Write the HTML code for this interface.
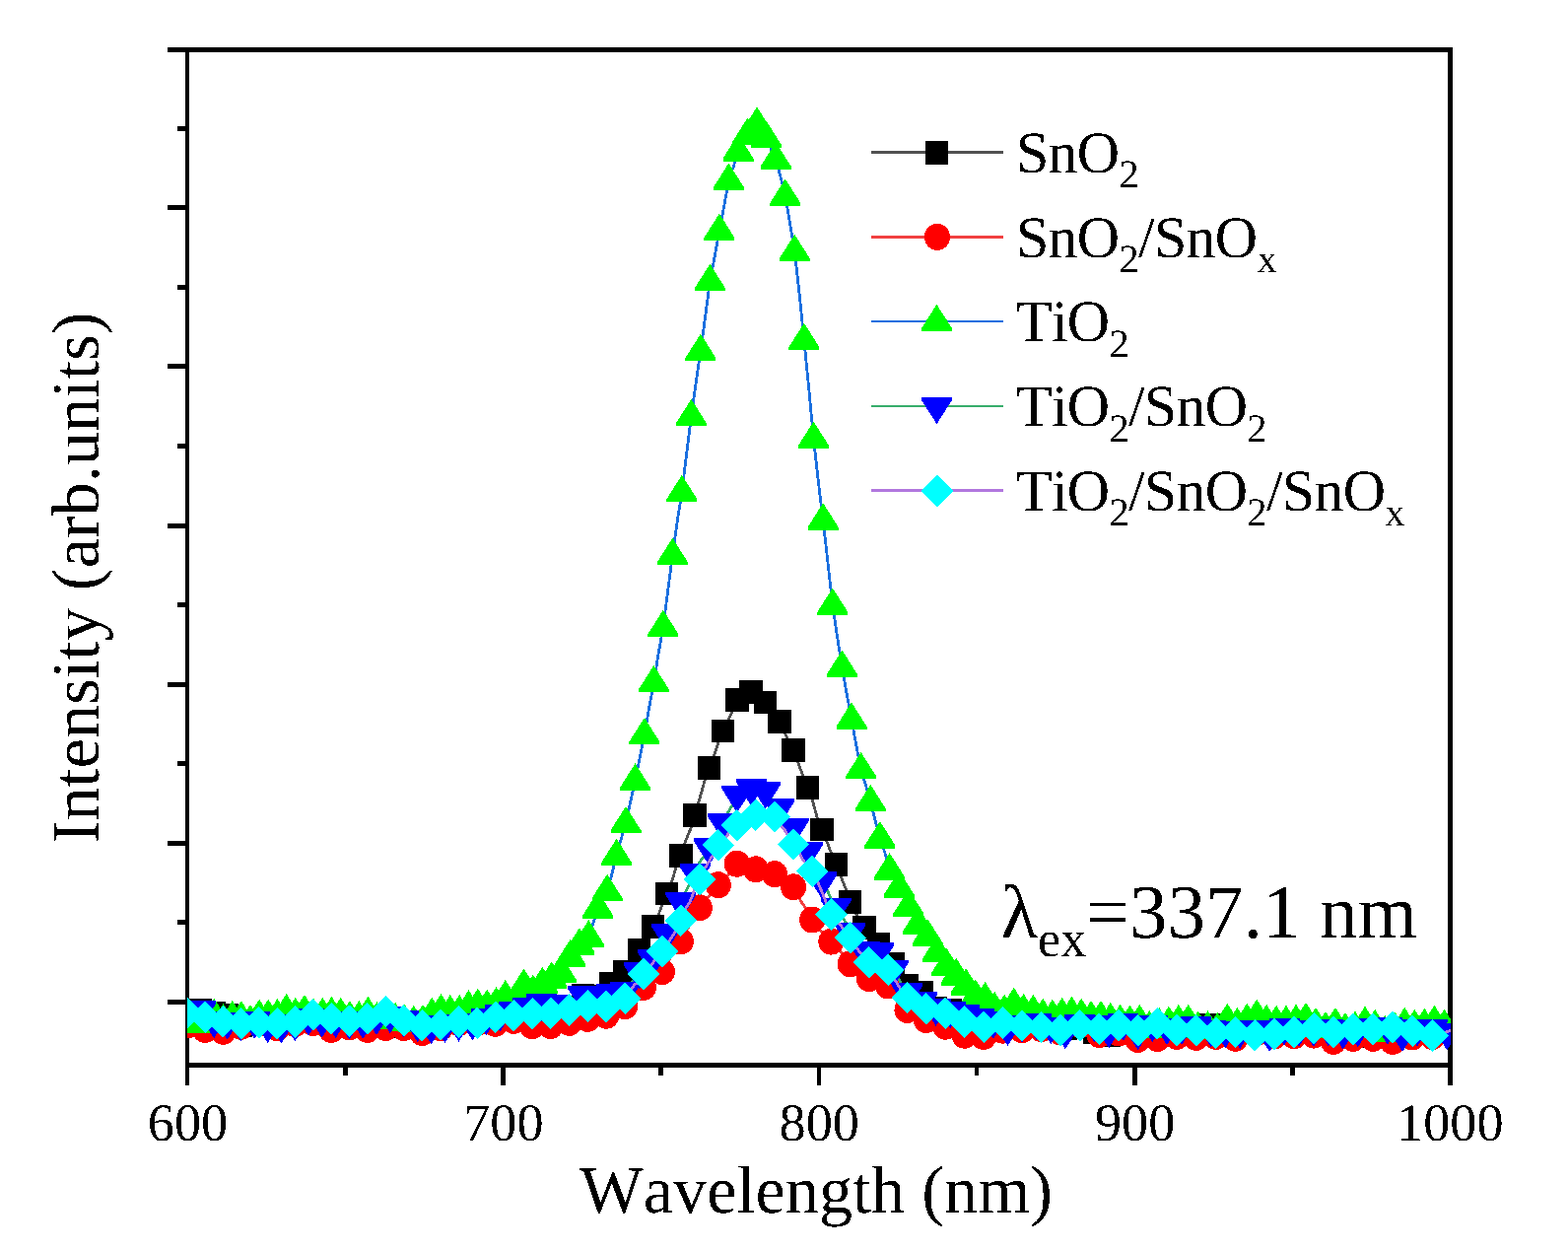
<!DOCTYPE html>
<html lang="en">
<head>
<meta charset="utf-8">
<title>PL spectra</title>
<style>
html,body{margin:0;padding:0;background:#fff}
body{width:1591px;height:1269px}
svg{display:block}
text{font-family:"Liberation Serif","DejaVu Serif",serif;font-kerning:none;fill:#000;text-rendering:geometricPrecision}
.tick{font-size:54.3px}
.leg{font-size:60px;letter-spacing:-0.75px}
.sub{font-size:40.6px}
.title{font-size:68.3px}
.lam{font-size:77.3px}
.lamsub{font-size:52px}
</style>
</head>
<body>
<svg width="1591" height="1269" viewBox="0 0 1591 1269">
<rect x="0" y="0" width="1591" height="1269" fill="#ffffff"/>
<defs><clipPath id="plot"><rect x="190" y="53" width="1282" height="1025"/></clipPath>
<filter id="crisp" x="-5%" y="-20%" width="110%" height="140%" color-interpolation-filters="sRGB"><feComponentTransfer><feFuncA type="discrete" tableValues="0 1"/></feComponentTransfer></filter></defs>
<g fill="#000" shape-rendering="crispEdges">
<rect x="170" y="48" width="1304" height="5"/>
<rect x="188" y="48" width="4" height="1053"/>
<rect x="188" y="1078" width="1286" height="5"/>
<rect x="1469" y="48" width="5" height="1053"/>
<rect x="180" y="128" width="8" height="5"/>
<rect x="170" y="208" width="18" height="5"/>
<rect x="180" y="289" width="8" height="5"/>
<rect x="170" y="369" width="18" height="5"/>
<rect x="180" y="450" width="8" height="5"/>
<rect x="170" y="531" width="18" height="5"/>
<rect x="180" y="611" width="8" height="5"/>
<rect x="170" y="692" width="18" height="5"/>
<rect x="180" y="772" width="8" height="5"/>
<rect x="170" y="853" width="18" height="5"/>
<rect x="180" y="933" width="8" height="5"/>
<rect x="170" y="1014" width="18" height="5"/>
<rect x="348" y="1083" width="5" height="8"/>
<rect x="508" y="1083" width="5" height="18"/>
<rect x="668" y="1083" width="5" height="8"/>
<rect x="829" y="1083" width="4" height="18"/>
<rect x="989" y="1083" width="4" height="8"/>
<rect x="1149" y="1083" width="5" height="18"/>
<rect x="1309" y="1083" width="5" height="8"/>
</g>
<g clip-path="url(#plot)">
<g id="s-black">
<polyline fill="none" stroke="#515151" stroke-width="2.8" stroke-linejoin="round" shape-rendering="crispEdges" points="189.8,1026 194.3,1025.4 198.8,1026.3 203.4,1025.1 207.9,1024.1 212.5,1026.2 217,1028 221.6,1027.2 226.1,1027.6 230.7,1029.9 235.2,1032 239.8,1036 244.4,1039.9 248.9,1038.6 253.5,1038.2 258,1037.2 262.6,1036.2 267.2,1036.7 271.8,1035.3 276.3,1034.1 280.9,1036.8 285.5,1035.3 290.1,1032.8 294.6,1034.7 299.2,1033.4 303.8,1033.4 308.4,1034.3 313,1034.4 317.6,1033 322.2,1033.2 326.8,1034.4 331.4,1035.3 336,1035.6 340.5,1033.4 345.2,1033.8 349.8,1036.4 354.4,1036.8 359,1038.3 363.6,1038.4 368.2,1036.8 372.8,1035.5 377.4,1035.7 382,1037.9 386.6,1036.8 391.3,1039.8 395.9,1038.5 400.5,1037.8 405.1,1039.9 409.8,1041.1 414.4,1043.1 419,1041.6 423.7,1041.6 428.3,1042 432.9,1040.2 437.6,1040.6 442.2,1039 446.9,1037.2 451.5,1033.5 456.1,1030.6 460.8,1032.6 465.4,1030.6 470.1,1032.6 474.7,1031.6 479.4,1030.6 484.1,1028 488.7,1028.2 493.4,1025.3 498,1023.7 502.7,1025.1 507.4,1025.3 512,1025.3 516.7,1021.1 521.4,1020.3 526.1,1023.7 530.7,1027.3 535.4,1033 540.1,1030.1 544.8,1031.7 549.5,1030 554.1,1027.5 558.8,1026.4 563.5,1026 568.2,1024.6 572.9,1021.5 577.6,1022 582.3,1018.4 587,1012.8 591.7,1010.3 596.4,1010.8 601.1,1011.3 605.8,1010.6 610.5,1004.8 615.2,1001.9 619.9,998.1 624.6,994.8 629.4,989.6 634.1,985.8 638.8,976.7 643.5,971.3 648.2,963.8 653,956.4 657.7,947.7 662.4,939.6 667.2,930.3 671.9,917.9 676.6,906.5 681.4,895.3 686.1,879.4 690.8,868 695.6,852.9 700.3,841.9 705.1,827 709.8,810.6 714.6,793.6 719.3,778.9 724.1,768.1 728.8,753.4 733.6,741.5 738.3,731.9 743.1,721.3 747.9,709.8 752.6,708.7 757.4,705 762.1,701.8 766.9,706.4 771.7,708.3 776.5,712.5 781.2,718 786,726.9 790.8,731.8 795.6,741.1 800.4,752.9 805.1,760.6 809.9,774 814.7,786.7 819.5,799 824.3,811.6 829.1,829.1 833.9,841.5 838.7,853.1 843.5,865.3 848.3,876.8 853.1,889.1 857.9,901.1 862.7,914.9 867.5,925.1 872.3,932.5 877.1,940.8 881.9,944.5 886.8,952.7 891.6,958 896.4,964 901.2,971.5 906,978.1 910.9,987 915.7,992.3 920.5,1000.3 925.4,1004.2 930.2,1005.3 935,1007.1 939.9,1010.4 944.7,1019.3 949.5,1022.9 954.4,1024.4 959.2,1026.4 964.1,1025.2 968.9,1026.8 973.8,1029.6 978.6,1034 983.5,1036.4 988.3,1036.1 993.2,1036 998,1032.4 1002.9,1033.2 1007.8,1030.3 1012.6,1031.3 1017.5,1032 1022.4,1030.3 1027.2,1031.3 1032.1,1029.1 1037,1030.7 1041.9,1030 1046.7,1031.2 1051.6,1034.3 1056.5,1032.7 1061.4,1034 1066.3,1035.3 1071.2,1039.5 1076,1040.9 1080.9,1043.5 1085.8,1042.2 1090.7,1041.9 1095.6,1039 1100.5,1040.3 1105.4,1043.6 1110.3,1047.3 1115.2,1048.5 1120.1,1050.8 1125,1049.8 1130,1047.2 1134.9,1042.3 1139.8,1041.4 1144.7,1044.4 1149.6,1043.9 1154.5,1046.7 1159.4,1047.9 1164.4,1046.3 1169.3,1046.7 1174.2,1047.1 1179.1,1045.5 1184.1,1043.4 1189,1043.3 1193.9,1041.2 1198.9,1042.3 1203.8,1042.2 1208.8,1044.1 1213.7,1047.3 1218.6,1043.1 1223.6,1041 1228.5,1040.2 1233.5,1041.9 1238.4,1046.6 1243.4,1048.5 1248.3,1047.1 1253.3,1043.2 1258.3,1043.5 1263.2,1040.8 1268.2,1043.3 1273.1,1040.4 1278.1,1041 1283.1,1039.9 1288,1041.4 1293,1040.4 1298,1042.4 1303,1041.4 1307.9,1040.2 1312.9,1041.7 1317.9,1041.4 1322.9,1045.3 1327.9,1046.9 1332.9,1047.5 1337.8,1046.5 1342.8,1047.5 1347.8,1047.5 1352.8,1048.3 1357.8,1049.5 1362.8,1048.5 1367.8,1047.1 1372.8,1046.6 1377.8,1048.5 1382.8,1047.7 1387.8,1050.4 1392.8,1051.4 1397.8,1051.8 1402.9,1051.7 1407.9,1051.4 1412.9,1049.5 1417.9,1051 1422.9,1047.9 1427.9,1047.4 1433,1045.8 1438,1045.4 1443,1045.6 1448.1,1046.4 1453.1,1045.4 1458.1,1046.1 1463.1,1044.5 1468.2,1045.4 1473.2,1046.4 1478.3,1047"/>
<g fill="#000000" shape-rendering="crispEdges">
<rect x="178.1" y="1014.1" width="23.4" height="23.8"/>
<rect x="191.7" y="1013.2" width="23.4" height="23.8"/>
<rect x="205.3" y="1016.1" width="23.4" height="23.8"/>
<rect x="219" y="1018" width="23.4" height="23.8"/>
<rect x="232.7" y="1028" width="23.4" height="23.8"/>
<rect x="246.3" y="1025.3" width="23.4" height="23.8"/>
<rect x="260.1" y="1023.4" width="23.4" height="23.8"/>
<rect x="273.8" y="1023.4" width="23.4" height="23.8"/>
<rect x="287.5" y="1021.5" width="23.4" height="23.8"/>
<rect x="301.3" y="1022.5" width="23.4" height="23.8"/>
<rect x="315.1" y="1022.5" width="23.4" height="23.8"/>
<rect x="328.8" y="1021.5" width="23.4" height="23.8"/>
<rect x="342.7" y="1024.9" width="23.4" height="23.8"/>
<rect x="356.5" y="1024.9" width="23.4" height="23.8"/>
<rect x="370.3" y="1026" width="23.4" height="23.8"/>
<rect x="384.2" y="1026.6" width="23.4" height="23.8"/>
<rect x="398.1" y="1029.2" width="23.4" height="23.8"/>
<rect x="412" y="1029.7" width="23.4" height="23.8"/>
<rect x="425.9" y="1028.7" width="23.4" height="23.8"/>
<rect x="439.8" y="1021.6" width="23.4" height="23.8"/>
<rect x="453.7" y="1018.7" width="23.4" height="23.8"/>
<rect x="467.7" y="1018.7" width="23.4" height="23.8"/>
<rect x="481.7" y="1013.4" width="23.4" height="23.8"/>
<rect x="495.7" y="1013.4" width="23.4" height="23.8"/>
<rect x="509.7" y="1008.4" width="23.4" height="23.8"/>
<rect x="523.7" y="1021.1" width="23.4" height="23.8"/>
<rect x="537.8" y="1018.1" width="23.4" height="23.8"/>
<rect x="551.8" y="1014.1" width="23.4" height="23.8"/>
<rect x="565.9" y="1010.1" width="23.4" height="23.8"/>
<rect x="580" y="998.4" width="23.4" height="23.8"/>
<rect x="594.1" y="998.7" width="23.4" height="23.8"/>
<rect x="608.2" y="986.2" width="23.4" height="23.8"/>
<rect x="622.4" y="973.9" width="23.4" height="23.8"/>
<rect x="636.5" y="951.9" width="23.4" height="23.8"/>
<rect x="650.7" y="927.7" width="23.4" height="23.8"/>
<rect x="664.9" y="894.6" width="23.4" height="23.8"/>
<rect x="679.1" y="856.1" width="23.4" height="23.8"/>
<rect x="693.4" y="815.1" width="23.4" height="23.8"/>
<rect x="707.6" y="767" width="23.4" height="23.8"/>
<rect x="721.9" y="729.6" width="23.4" height="23.8"/>
<rect x="736.1" y="697.9" width="23.4" height="23.8"/>
<rect x="750.4" y="689.9" width="23.4" height="23.8"/>
<rect x="764.8" y="700.6" width="23.4" height="23.8"/>
<rect x="779.1" y="719.9" width="23.4" height="23.8"/>
<rect x="793.4" y="748.7" width="23.4" height="23.8"/>
<rect x="807.8" y="787.1" width="23.4" height="23.8"/>
<rect x="822.2" y="829.6" width="23.4" height="23.8"/>
<rect x="836.6" y="864.9" width="23.4" height="23.8"/>
<rect x="851" y="903" width="23.4" height="23.8"/>
<rect x="865.4" y="928.9" width="23.4" height="23.8"/>
<rect x="879.9" y="946.1" width="23.4" height="23.8"/>
<rect x="894.3" y="966.2" width="23.4" height="23.8"/>
<rect x="908.8" y="988.4" width="23.4" height="23.8"/>
<rect x="923.3" y="995.2" width="23.4" height="23.8"/>
<rect x="937.8" y="1011" width="23.4" height="23.8"/>
<rect x="952.4" y="1013.3" width="23.4" height="23.8"/>
<rect x="966.9" y="1022.1" width="23.4" height="23.8"/>
<rect x="981.5" y="1024.1" width="23.4" height="23.8"/>
<rect x="996.1" y="1018.4" width="23.4" height="23.8"/>
<rect x="1010.7" y="1018.4" width="23.4" height="23.8"/>
<rect x="1025.3" y="1018.8" width="23.4" height="23.8"/>
<rect x="1039.9" y="1022.4" width="23.4" height="23.8"/>
<rect x="1054.6" y="1023.4" width="23.4" height="23.8"/>
<rect x="1069.2" y="1031.6" width="23.4" height="23.8"/>
<rect x="1083.9" y="1027.1" width="23.4" height="23.8"/>
<rect x="1098.6" y="1035.4" width="23.4" height="23.8"/>
<rect x="1113.3" y="1037.9" width="23.4" height="23.8"/>
<rect x="1128.1" y="1029.5" width="23.4" height="23.8"/>
<rect x="1142.8" y="1034.8" width="23.4" height="23.8"/>
<rect x="1157.6" y="1034.8" width="23.4" height="23.8"/>
<rect x="1172.4" y="1031.5" width="23.4" height="23.8"/>
<rect x="1187.2" y="1030.4" width="23.4" height="23.8"/>
<rect x="1202" y="1035.4" width="23.4" height="23.8"/>
<rect x="1216.8" y="1028.3" width="23.4" height="23.8"/>
<rect x="1231.7" y="1036.6" width="23.4" height="23.8"/>
<rect x="1246.6" y="1031.6" width="23.4" height="23.8"/>
<rect x="1261.4" y="1028.5" width="23.4" height="23.8"/>
<rect x="1276.3" y="1029.5" width="23.4" height="23.8"/>
<rect x="1291.3" y="1029.5" width="23.4" height="23.8"/>
<rect x="1306.2" y="1029.5" width="23.4" height="23.8"/>
<rect x="1321.2" y="1035.6" width="23.4" height="23.8"/>
<rect x="1336.1" y="1035.6" width="23.4" height="23.8"/>
<rect x="1351.1" y="1036.6" width="23.4" height="23.8"/>
<rect x="1366.1" y="1036.6" width="23.4" height="23.8"/>
<rect x="1381.1" y="1039.5" width="23.4" height="23.8"/>
<rect x="1396.2" y="1039.5" width="23.4" height="23.8"/>
<rect x="1411.2" y="1036" width="23.4" height="23.8"/>
<rect x="1426.3" y="1033.5" width="23.4" height="23.8"/>
<rect x="1441.4" y="1033.5" width="23.4" height="23.8"/>
<rect x="1456.5" y="1033.5" width="23.4" height="23.8"/>
</g></g>
<g id="s-red">
<polyline fill="none" stroke="#F14040" stroke-width="2.8" stroke-linejoin="round" shape-rendering="crispEdges" points="190,1040 194.5,1040.8 199.1,1040.3 203.6,1043.5 208.1,1044.4 212.7,1044.6 217.2,1045 221.8,1045.1 226.3,1046.3 230.9,1043.9 235.4,1044.3 240,1041.7 244.5,1041.3 249.1,1039.4 253.6,1039.9 258.2,1038.6 262.8,1037.6 267.3,1037.4 271.9,1040.2 276.5,1040.1 281,1042.6 285.6,1042.7 290.2,1042 294.8,1039.6 299.4,1038.6 303.9,1039.7 308.5,1036.4 313.1,1037.9 317.7,1037.6 322.3,1037.6 326.9,1040.7 331.5,1041.1 336.1,1044.4 340.6,1042.3 345.2,1043.5 349.8,1041.4 354.4,1041.9 359.1,1041 363.7,1042 368.3,1043.2 372.9,1044.4 377.5,1043.8 382.1,1042.3 386.7,1043.5 391.3,1042.5 396,1042.4 400.6,1042.5 405.2,1042 409.8,1042.5 414.4,1044.9 419.1,1045.4 423.7,1045 428.3,1047.6 433,1047.1 437.6,1046.9 442.2,1043.8 446.9,1042.5 451.5,1042.8 456.2,1039.4 460.8,1039.1 465.5,1037.6 470.1,1037.3 474.8,1037.3 479.4,1038.7 484.1,1037.6 488.7,1037.9 493.4,1039.8 498,1038.4 502.7,1038.4 507.4,1036 512,1036.4 516.7,1037.6 521.4,1035.4 526.1,1036.3 530.7,1036.2 535.4,1038.4 540.1,1040.7 544.8,1038.9 549.4,1042.6 554.1,1042.4 558.8,1040.5 563.5,1040.9 568.2,1039.4 572.9,1039.2 577.6,1037.4 582.3,1035.1 587,1034.6 591.7,1034.5 596.4,1033.4 601.1,1032 605.8,1030 610.5,1032.9 615.2,1030.2 619.9,1027.6 624.6,1025.5 629.3,1022.4 634,1020.8 638.8,1015 643.5,1010.7 648.2,1007.7 652.9,1001.5 657.7,998.5 662.4,993.1 667.1,987.6 671.8,985.6 676.6,979.1 681.3,969.3 686,962.8 690.8,954.8 695.5,944.4 700.3,938.5 705,928.9 709.8,920.8 714.5,915 719.3,908.9 724,902.9 728.8,897.7 733.5,892.5 738.3,888.8 743,880 747.8,876.2 752.6,876.9 757.3,877.2 762.1,881.4 766.9,881.8 771.6,883.7 776.4,883.1 781.2,885.1 786,886.7 790.7,890.5 795.5,893.9 800.3,895.2 805.1,899.8 809.9,909.6 814.7,917.5 819.5,923.2 824.2,933 829,940 833.8,945 838.6,950.8 843.4,955.1 848.2,960.9 853,965.3 857.8,973.8 862.7,977.8 867.5,981.9 872.3,984.6 877.1,988 881.9,992.7 886.7,996.2 891.5,996 896.4,998.3 901.2,1000 906,1006.5 910.8,1013.5 915.7,1018.8 920.5,1024.4 925.3,1025.6 930.2,1029.8 935,1031.9 939.8,1034.5 944.7,1036.4 949.5,1038.6 954.4,1038.5 959.2,1041.2 964.1,1042.2 968.9,1044.1 973.8,1047 978.6,1050.2 983.5,1048.6 988.3,1051.4 993.2,1050.4 998,1051.5 1002.9,1048.7 1007.8,1046.7 1012.6,1045.9 1017.5,1045.2 1022.4,1043.9 1027.2,1044 1032.1,1044.6 1037,1044.6 1041.9,1044.5 1046.8,1045.5 1051.6,1045.8 1056.5,1043.6 1061.4,1042.6 1066.3,1044.2 1071.2,1046.7 1076.1,1047 1081,1043.8 1085.9,1044.8 1090.8,1040.3 1095.7,1039.6 1100.6,1043 1105.5,1045.2 1110.4,1048.2 1115.3,1049.5 1120.2,1047.3 1125.1,1047.7 1130,1049.2 1134.9,1048 1139.8,1048 1144.7,1049.4 1149.7,1052.3 1154.6,1054.5 1159.5,1054.6 1164.4,1052.2 1169.4,1052 1174.3,1053.5 1179.2,1051.1 1184.2,1052 1189.1,1052.6 1194,1051.4 1199,1050.4 1203.9,1053.4 1208.9,1051.8 1213.8,1052.3 1218.7,1052.6 1223.7,1051 1228.6,1052.1 1233.6,1051.4 1238.6,1053.7 1243.5,1052.1 1248.5,1051.7 1253.4,1053.3 1258.4,1051.8 1263.3,1050.7 1268.3,1049.8 1273.3,1048.6 1278.3,1049.3 1283.2,1048 1288.2,1049.1 1293.2,1051 1298.1,1050.8 1303.1,1051.7 1308.1,1052 1313.1,1050.8 1318.1,1051.7 1323.1,1050.5 1328.1,1052.1 1333,1050.1 1338,1051 1343,1053.2 1348,1055.8 1353,1056.4 1358,1057.1 1363,1054.5 1368,1055.5 1373,1053.3 1378,1053.1 1383,1054.2 1388.1,1051.3 1393.1,1053.3 1398.1,1052.2 1403.1,1056.6 1408.1,1054 1413.1,1056.4 1418.2,1055.9 1423.2,1053.3 1428.2,1051.9 1433.2,1052 1438.3,1051.5 1443.3,1053.5 1448.3,1052 1453.4,1051.6 1458.4,1051.5 1463.5,1051.3 1468.5,1051.2 1473.5,1051.1 1478.6,1051"/>
<g fill="#FF0000" shape-rendering="crispEdges">
<ellipse cx="190" cy="1040" rx="13.1" ry="13.5"/>
<ellipse cx="208.1" cy="1044.4" rx="13.1" ry="13.5"/>
<ellipse cx="226.3" cy="1046.3" rx="13.1" ry="13.5"/>
<ellipse cx="244.5" cy="1041.3" rx="13.1" ry="13.5"/>
<ellipse cx="262.8" cy="1037.6" rx="13.1" ry="13.5"/>
<ellipse cx="281" cy="1042.6" rx="13.1" ry="13.5"/>
<ellipse cx="299.4" cy="1038.6" rx="13.1" ry="13.5"/>
<ellipse cx="317.7" cy="1037.6" rx="13.1" ry="13.5"/>
<ellipse cx="336.1" cy="1044.4" rx="13.1" ry="13.5"/>
<ellipse cx="354.4" cy="1041.9" rx="13.1" ry="13.5"/>
<ellipse cx="372.9" cy="1044.4" rx="13.1" ry="13.5"/>
<ellipse cx="391.3" cy="1042.5" rx="13.1" ry="13.5"/>
<ellipse cx="409.8" cy="1042.5" rx="13.1" ry="13.5"/>
<ellipse cx="428.3" cy="1047.6" rx="13.1" ry="13.5"/>
<ellipse cx="446.9" cy="1042.5" rx="13.1" ry="13.5"/>
<ellipse cx="465.5" cy="1037.6" rx="13.1" ry="13.5"/>
<ellipse cx="484.1" cy="1037.6" rx="13.1" ry="13.5"/>
<ellipse cx="502.7" cy="1038.4" rx="13.1" ry="13.5"/>
<ellipse cx="521.4" cy="1035.4" rx="13.1" ry="13.5"/>
<ellipse cx="540.1" cy="1040.7" rx="13.1" ry="13.5"/>
<ellipse cx="558.8" cy="1040.5" rx="13.1" ry="13.5"/>
<ellipse cx="577.6" cy="1037.4" rx="13.1" ry="13.5"/>
<ellipse cx="596.4" cy="1033.4" rx="13.1" ry="13.5"/>
<ellipse cx="615.2" cy="1030.2" rx="13.1" ry="13.5"/>
<ellipse cx="634" cy="1020.8" rx="13.1" ry="13.5"/>
<ellipse cx="652.9" cy="1001.5" rx="13.1" ry="13.5"/>
<ellipse cx="671.8" cy="985.6" rx="13.1" ry="13.5"/>
<ellipse cx="690.8" cy="954.8" rx="13.1" ry="13.5"/>
<ellipse cx="709.8" cy="920.8" rx="13.1" ry="13.5"/>
<ellipse cx="728.8" cy="897.7" rx="13.1" ry="13.5"/>
<ellipse cx="747.8" cy="876.2" rx="13.1" ry="13.5"/>
<ellipse cx="766.9" cy="881.8" rx="13.1" ry="13.5"/>
<ellipse cx="786" cy="886.7" rx="13.1" ry="13.5"/>
<ellipse cx="805.1" cy="899.8" rx="13.1" ry="13.5"/>
<ellipse cx="824.2" cy="933" rx="13.1" ry="13.5"/>
<ellipse cx="843.4" cy="955.1" rx="13.1" ry="13.5"/>
<ellipse cx="862.7" cy="977.8" rx="13.1" ry="13.5"/>
<ellipse cx="881.9" cy="992.7" rx="13.1" ry="13.5"/>
<ellipse cx="901.2" cy="1000" rx="13.1" ry="13.5"/>
<ellipse cx="920.5" cy="1024.4" rx="13.1" ry="13.5"/>
<ellipse cx="939.8" cy="1034.5" rx="13.1" ry="13.5"/>
<ellipse cx="959.2" cy="1041.2" rx="13.1" ry="13.5"/>
<ellipse cx="978.6" cy="1050.2" rx="13.1" ry="13.5"/>
<ellipse cx="998" cy="1051.5" rx="13.1" ry="13.5"/>
<ellipse cx="1017.5" cy="1045.2" rx="13.1" ry="13.5"/>
<ellipse cx="1037" cy="1044.6" rx="13.1" ry="13.5"/>
<ellipse cx="1056.5" cy="1043.6" rx="13.1" ry="13.5"/>
<ellipse cx="1076.1" cy="1047" rx="13.1" ry="13.5"/>
<ellipse cx="1095.7" cy="1039.6" rx="13.1" ry="13.5"/>
<ellipse cx="1115.3" cy="1049.5" rx="13.1" ry="13.5"/>
<ellipse cx="1134.9" cy="1048" rx="13.1" ry="13.5"/>
<ellipse cx="1154.6" cy="1054.5" rx="13.1" ry="13.5"/>
<ellipse cx="1174.3" cy="1053.5" rx="13.1" ry="13.5"/>
<ellipse cx="1194" cy="1051.4" rx="13.1" ry="13.5"/>
<ellipse cx="1213.8" cy="1052.3" rx="13.1" ry="13.5"/>
<ellipse cx="1233.6" cy="1051.4" rx="13.1" ry="13.5"/>
<ellipse cx="1253.4" cy="1053.3" rx="13.1" ry="13.5"/>
<ellipse cx="1273.3" cy="1048.6" rx="13.1" ry="13.5"/>
<ellipse cx="1293.2" cy="1051" rx="13.1" ry="13.5"/>
<ellipse cx="1313.1" cy="1050.8" rx="13.1" ry="13.5"/>
<ellipse cx="1333" cy="1050.1" rx="13.1" ry="13.5"/>
<ellipse cx="1353" cy="1056.4" rx="13.1" ry="13.5"/>
<ellipse cx="1373" cy="1053.3" rx="13.1" ry="13.5"/>
<ellipse cx="1393.1" cy="1053.3" rx="13.1" ry="13.5"/>
<ellipse cx="1413.1" cy="1056.4" rx="13.1" ry="13.5"/>
<ellipse cx="1433.2" cy="1052" rx="13.1" ry="13.5"/>
<ellipse cx="1453.4" cy="1051.6" rx="13.1" ry="13.5"/>
</g></g>
<g id="s-green">
<polyline fill="none" stroke="#1A6FDF" stroke-width="2.8" stroke-linejoin="round" shape-rendering="crispEdges" points="190.1,1033.2 194.7,1035.8 199.2,1037.9 203.8,1035.9 208.3,1032.2 212.9,1030.5 217.4,1030.5 222,1033 226.5,1035.5 231.1,1035.5 235.7,1032.4 240.2,1034.1 244.8,1032.6 249.4,1033 253.9,1036.4 258.5,1032.6 263.1,1031.1 267.6,1029.3 272.2,1031.1 276.8,1030.6 281.4,1030.5 286,1026.1 290.6,1025.5 295.1,1027.2 299.7,1029.2 304.3,1028.4 308.9,1026.4 313.5,1027.4 318.1,1030.2 322.7,1030.4 327.3,1029.2 331.9,1029.2 336.5,1028.4 341.1,1026.9 345.7,1029.2 350.3,1031.1 354.9,1032.6 359.5,1031.5 364.2,1032.4 368.8,1030 373.4,1028.2 378,1030.1 382.6,1033.7 387.3,1034.2 391.9,1033.2 396.5,1033.5 401.1,1034.3 405.8,1033.9 410.4,1036.2 415,1037 419.7,1037.4 424.3,1038 429,1036.4 433.6,1032.1 438.2,1029.3 442.9,1026.3 447.5,1025.5 452.2,1025.5 456.8,1026.4 461.5,1028.1 466.2,1026.4 470.8,1026 475.5,1021.7 480.1,1021.6 484.8,1020.2 489.5,1022.3 494.1,1021.1 498.8,1021.2 503.5,1018.6 508.1,1014.5 512.8,1011.4 517.5,1012.1 522.2,1016.1 526.9,1008.7 531.5,1000 536.2,1003.3 540.9,1006.2 545.6,1001.7 550.3,998.4 555,994.6 559.7,992.9 564.4,989.3 569.1,986.5 573.8,978.4 578.5,970.5 583.2,963.7 587.9,958.7 592.6,953.8 597.3,950.6 602,935.9 606.7,921.6 611.4,914.3 616.1,904.2 620.9,886.5 625.6,868.2 630.3,850.9 635,835.4 639.8,812.8 644.5,791.9 649.2,768.5 653.9,745.4 658.7,717.7 663.4,692.4 668.1,663.1 672.9,636.2 677.6,599.8 682.4,563.2 687.1,529.6 691.9,499.3 696.6,460.7 701.4,422.3 706.1,388.7 710.9,356.1 715.6,321.5 720.4,285.2 725.1,260.6 729.9,234.1 734.7,209.3 739.4,183 744.2,169.1 749,153.7 753.7,144.9 758.5,137.1 763.3,132.2 768.1,125.9 772.8,132.4 777.6,140.2 782.4,151.2 787.2,161.7 792,179.6 796.8,198.9 801.6,226.8 806.3,255.2 811.1,298.4 815.9,345.1 820.7,394 825.5,445 830.3,488.2 835.1,527.7 839.9,569.7 844.8,613.9 849.6,646.2 854.4,676.9 859.2,704 864,729.9 868.8,756 873.6,780.4 878.5,796.7 883.3,813.3 888.1,832.3 892.9,850.5 897.8,864.8 902.6,882.6 907.4,889.9 912.2,900.6 917.1,908.9 921.9,919.6 926.8,927.2 931.6,937.6 936.4,942 941.3,949.7 946.1,956.5 951,966.3 955.8,973.2 960.7,979.6 965.5,983.4 970.4,989.6 975.3,996.5 980.1,999.7 985,1006.1 989.8,1011 994.7,1012.4 999.6,1013.5 1004.4,1019.4 1009.3,1023.6 1014.2,1023.9 1019.1,1026.1 1023.9,1024.4 1028.8,1019.2 1033.7,1023.7 1038.6,1025.5 1043.5,1026.9 1048.3,1026.5 1053.2,1028.2 1058.1,1030.1 1063,1032 1067.9,1031.1 1072.8,1031.2 1077.7,1029.3 1082.6,1029.4 1087.5,1028.2 1092.4,1030.8 1097.3,1030.1 1102.2,1031.8 1107.1,1032.4 1112,1031.9 1117,1032.4 1121.9,1033.6 1126.8,1034.3 1131.7,1034 1136.6,1036.2 1141.5,1035.5 1146.5,1037.2 1151.4,1037.6 1156.3,1036.2 1161.3,1040.5 1166.2,1042.5 1171.1,1042.7 1176.1,1039.2 1181,1040.1 1185.9,1038.1 1190.9,1037.4 1195.8,1036.4 1200.8,1034.7 1205.7,1036.2 1210.7,1039.6 1215.6,1043.1 1220.6,1044.5 1225.5,1042.5 1230.5,1044.6 1235.4,1044.3 1240.4,1039.7 1245.3,1035.2 1250.3,1037.1 1255.3,1039.3 1260.2,1036.1 1265.2,1035.2 1270.2,1031.9 1275.2,1031.1 1280.1,1031.9 1285.1,1036.2 1290.1,1038.3 1295.1,1037.2 1300,1037.8 1305,1037.2 1310,1035.3 1315,1036.2 1320,1034.9 1325,1034.3 1330,1035 1335,1039.3 1340,1040.1 1345,1043.3 1350,1042.2 1355,1039.3 1360,1042.4 1365,1044.3 1370,1043.6 1375,1043.1 1380,1039.7 1385,1038.1 1390.1,1040.3 1395.1,1041.2 1400.1,1046 1405.1,1047.2 1410.1,1045.2 1415.2,1043.7 1420.2,1039.8 1425.2,1039.3 1430.3,1038.5 1435.3,1041.2 1440.3,1039 1445.4,1040.2 1450.4,1040.5 1455.4,1037.2 1460.5,1039.4 1465.5,1041.2 1470.6,1040.6 1475.6,1040 1480.7,1040"/>
<g fill="#00FF00" shape-rendering="crispEdges">
<polygon points="190.1,1015.7 205.6,1040.2 205.6,1043.2 174.6,1043.2 174.6,1040.2"/>
<polygon points="199.2,1020.4 214.7,1044.9 214.7,1047.9 183.7,1047.9 183.7,1044.9"/>
<polygon points="208.3,1014.7 223.8,1039.2 223.8,1042.2 192.8,1042.2 192.8,1039.2"/>
<polygon points="217.4,1013 232.9,1037.5 232.9,1040.5 201.9,1040.5 201.9,1037.5"/>
<polygon points="226.5,1018 242,1042.5 242,1045.5 211,1045.5 211,1042.5"/>
<polygon points="235.7,1014.9 251.2,1039.4 251.2,1042.4 220.2,1042.4 220.2,1039.4"/>
<polygon points="244.8,1015.1 260.3,1039.6 260.3,1042.6 229.3,1042.6 229.3,1039.6"/>
<polygon points="253.9,1018.9 269.4,1043.4 269.4,1046.4 238.4,1046.4 238.4,1043.4"/>
<polygon points="263.1,1013.6 278.6,1038.1 278.6,1041.1 247.6,1041.1 247.6,1038.1"/>
<polygon points="272.2,1013.6 287.7,1038.1 287.7,1041.1 256.7,1041.1 256.7,1038.1"/>
<polygon points="281.4,1013 296.9,1037.5 296.9,1040.5 265.9,1040.5 265.9,1037.5"/>
<polygon points="290.6,1008 306.1,1032.5 306.1,1035.5 275.1,1035.5 275.1,1032.5"/>
<polygon points="299.7,1011.7 315.2,1036.2 315.2,1039.2 284.2,1039.2 284.2,1036.2"/>
<polygon points="308.9,1008.9 324.4,1033.4 324.4,1036.4 293.4,1036.4 293.4,1033.4"/>
<polygon points="318.1,1012.7 333.6,1037.2 333.6,1040.2 302.6,1040.2 302.6,1037.2"/>
<polygon points="327.3,1011.7 342.8,1036.2 342.8,1039.2 311.8,1039.2 311.8,1036.2"/>
<polygon points="336.5,1010.9 352,1035.4 352,1038.4 321,1038.4 321,1035.4"/>
<polygon points="345.7,1011.7 361.2,1036.2 361.2,1039.2 330.2,1039.2 330.2,1036.2"/>
<polygon points="354.9,1015.1 370.4,1039.6 370.4,1042.6 339.4,1042.6 339.4,1039.6"/>
<polygon points="364.2,1014.9 379.7,1039.4 379.7,1042.4 348.7,1042.4 348.7,1039.4"/>
<polygon points="373.4,1010.7 388.9,1035.2 388.9,1038.2 357.9,1038.2 357.9,1035.2"/>
<polygon points="382.6,1016.2 398.1,1040.7 398.1,1043.7 367.1,1043.7 367.1,1040.7"/>
<polygon points="391.9,1015.7 407.4,1040.2 407.4,1043.2 376.4,1043.2 376.4,1040.2"/>
<polygon points="401.1,1016.8 416.6,1041.3 416.6,1044.3 385.6,1044.3 385.6,1041.3"/>
<polygon points="410.4,1018.7 425.9,1043.2 425.9,1046.2 394.9,1046.2 394.9,1043.2"/>
<polygon points="419.7,1019.9 435.2,1044.4 435.2,1047.4 404.2,1047.4 404.2,1044.4"/>
<polygon points="429,1018.9 444.5,1043.4 444.5,1046.4 413.5,1046.4 413.5,1043.4"/>
<polygon points="438.2,1011.8 453.7,1036.3 453.7,1039.3 422.7,1039.3 422.7,1036.3"/>
<polygon points="447.5,1008 463,1032.5 463,1035.5 432,1035.5 432,1032.5"/>
<polygon points="456.8,1008.9 472.3,1033.4 472.3,1036.4 441.3,1036.4 441.3,1033.4"/>
<polygon points="466.2,1008.9 481.7,1033.4 481.7,1036.4 450.7,1036.4 450.7,1033.4"/>
<polygon points="475.5,1004.2 491,1028.7 491,1031.7 460,1031.7 460,1028.7"/>
<polygon points="484.8,1002.7 500.3,1027.2 500.3,1030.2 469.3,1030.2 469.3,1027.2"/>
<polygon points="494.1,1003.6 509.6,1028.1 509.6,1031.1 478.6,1031.1 478.6,1028.1"/>
<polygon points="503.5,1001.1 519,1025.6 519,1028.6 488,1028.6 488,1025.6"/>
<polygon points="512.8,993.9 528.3,1018.4 528.3,1021.4 497.3,1021.4 497.3,1018.4"/>
<polygon points="522.2,998.6 537.7,1023.1 537.7,1026.1 506.7,1026.1 506.7,1023.1"/>
<polygon points="531.5,982.5 547,1007 547,1010 516,1010 516,1007"/>
<polygon points="540.9,988.7 556.4,1013.2 556.4,1016.2 525.4,1016.2 525.4,1013.2"/>
<polygon points="550.3,980.9 565.8,1005.4 565.8,1008.4 534.8,1008.4 534.8,1005.4"/>
<polygon points="559.7,975.4 575.2,999.9 575.2,1002.9 544.2,1002.9 544.2,999.9"/>
<polygon points="569.1,969 584.6,993.5 584.6,996.5 553.6,996.5 553.6,993.5"/>
<polygon points="578.5,953 594,977.5 594,980.5 563,980.5 563,977.5"/>
<polygon points="587.9,941.2 603.4,965.7 603.4,968.7 572.4,968.7 572.4,965.7"/>
<polygon points="597.3,933.1 612.8,957.6 612.8,960.6 581.8,960.6 581.8,957.6"/>
<polygon points="606.7,904.1 622.2,928.6 622.2,931.6 591.2,931.6 591.2,928.6"/>
<polygon points="616.1,886.7 631.6,911.2 631.6,914.2 600.6,914.2 600.6,911.2"/>
<polygon points="625.6,850.7 641.1,875.2 641.1,878.2 610.1,878.2 610.1,875.2"/>
<polygon points="635,817.9 650.5,842.4 650.5,845.4 619.5,845.4 619.5,842.4"/>
<polygon points="644.5,774.4 660,798.9 660,801.9 629,801.9 629,798.9"/>
<polygon points="653.9,727.9 669.4,752.4 669.4,755.4 638.4,755.4 638.4,752.4"/>
<polygon points="663.4,674.9 678.9,699.4 678.9,702.4 647.9,702.4 647.9,699.4"/>
<polygon points="672.9,618.7 688.4,643.2 688.4,646.2 657.4,646.2 657.4,643.2"/>
<polygon points="682.4,545.7 697.9,570.2 697.9,573.2 666.9,573.2 666.9,570.2"/>
<polygon points="691.9,481.8 707.4,506.3 707.4,509.3 676.4,509.3 676.4,506.3"/>
<polygon points="701.4,404.8 716.9,429.3 716.9,432.3 685.9,432.3 685.9,429.3"/>
<polygon points="710.9,338.6 726.4,363.1 726.4,366.1 695.4,366.1 695.4,363.1"/>
<polygon points="720.4,267.7 735.9,292.2 735.9,295.2 704.9,295.2 704.9,292.2"/>
<polygon points="729.9,216.6 745.4,241.1 745.4,244.1 714.4,244.1 714.4,241.1"/>
<polygon points="739.4,165.5 754.9,190 754.9,193 723.9,193 723.9,190"/>
<polygon points="749,136.2 764.5,160.7 764.5,163.7 733.5,163.7 733.5,160.7"/>
<polygon points="758.5,119.6 774,144.1 774,147.1 743,147.1 743,144.1"/>
<polygon points="768.1,108.4 783.6,132.9 783.6,135.9 752.6,135.9 752.6,132.9"/>
<polygon points="777.6,122.7 793.1,147.2 793.1,150.2 762.1,150.2 762.1,147.2"/>
<polygon points="787.2,144.2 802.7,168.7 802.7,171.7 771.7,171.7 771.7,168.7"/>
<polygon points="796.8,181.4 812.3,205.9 812.3,208.9 781.3,208.9 781.3,205.9"/>
<polygon points="806.3,237.7 821.8,262.2 821.8,265.2 790.8,265.2 790.8,262.2"/>
<polygon points="815.9,327.6 831.4,352.1 831.4,355.1 800.4,355.1 800.4,352.1"/>
<polygon points="825.5,427.5 841,452 841,455 810,455 810,452"/>
<polygon points="835.1,510.2 850.6,534.7 850.6,537.7 819.6,537.7 819.6,534.7"/>
<polygon points="844.8,596.4 860.3,620.9 860.3,623.9 829.3,623.9 829.3,620.9"/>
<polygon points="854.4,659.4 869.9,683.9 869.9,686.9 838.9,686.9 838.9,683.9"/>
<polygon points="864,712.4 879.5,736.9 879.5,739.9 848.5,739.9 848.5,736.9"/>
<polygon points="873.6,762.9 889.1,787.4 889.1,790.4 858.1,790.4 858.1,787.4"/>
<polygon points="883.3,795.8 898.8,820.3 898.8,823.3 867.8,823.3 867.8,820.3"/>
<polygon points="892.9,833 908.4,857.5 908.4,860.5 877.4,860.5 877.4,857.5"/>
<polygon points="902.6,865.1 918.1,889.6 918.1,892.6 887.1,892.6 887.1,889.6"/>
<polygon points="912.2,883.1 927.7,907.6 927.7,910.6 896.7,910.6 896.7,907.6"/>
<polygon points="921.9,902.1 937.4,926.6 937.4,929.6 906.4,929.6 906.4,926.6"/>
<polygon points="931.6,920.1 947.1,944.6 947.1,947.6 916.1,947.6 916.1,944.6"/>
<polygon points="941.3,932.2 956.8,956.7 956.8,959.7 925.8,959.7 925.8,956.7"/>
<polygon points="951,948.8 966.5,973.3 966.5,976.3 935.5,976.3 935.5,973.3"/>
<polygon points="960.7,962.1 976.2,986.6 976.2,989.6 945.2,989.6 945.2,986.6"/>
<polygon points="970.4,972.1 985.9,996.6 985.9,999.6 954.9,999.6 954.9,996.6"/>
<polygon points="980.1,982.2 995.6,1006.7 995.6,1009.7 964.6,1009.7 964.6,1006.7"/>
<polygon points="989.8,993.5 1005.3,1018 1005.3,1021 974.3,1021 974.3,1018"/>
<polygon points="999.6,996 1015.1,1020.5 1015.1,1023.5 984.1,1023.5 984.1,1020.5"/>
<polygon points="1009.3,1006.1 1024.8,1030.6 1024.8,1033.6 993.8,1033.6 993.8,1030.6"/>
<polygon points="1019.1,1008.6 1034.6,1033.1 1034.6,1036.1 1003.6,1036.1 1003.6,1033.1"/>
<polygon points="1028.8,1001.7 1044.3,1026.2 1044.3,1029.2 1013.3,1029.2 1013.3,1026.2"/>
<polygon points="1038.6,1008 1054.1,1032.5 1054.1,1035.5 1023.1,1035.5 1023.1,1032.5"/>
<polygon points="1048.3,1009 1063.8,1033.5 1063.8,1036.5 1032.8,1036.5 1032.8,1033.5"/>
<polygon points="1058.1,1012.6 1073.6,1037.1 1073.6,1040.1 1042.6,1040.1 1042.6,1037.1"/>
<polygon points="1067.9,1013.6 1083.4,1038.1 1083.4,1041.1 1052.4,1041.1 1052.4,1038.1"/>
<polygon points="1077.7,1011.8 1093.2,1036.3 1093.2,1039.3 1062.2,1039.3 1062.2,1036.3"/>
<polygon points="1087.5,1010.7 1103,1035.2 1103,1038.2 1072,1038.2 1072,1035.2"/>
<polygon points="1097.3,1012.6 1112.8,1037.1 1112.8,1040.1 1081.8,1040.1 1081.8,1037.1"/>
<polygon points="1107.1,1014.9 1122.6,1039.4 1122.6,1042.4 1091.6,1042.4 1091.6,1039.4"/>
<polygon points="1117,1014.9 1132.5,1039.4 1132.5,1042.4 1101.5,1042.4 1101.5,1039.4"/>
<polygon points="1126.8,1016.8 1142.3,1041.3 1142.3,1044.3 1111.3,1044.3 1111.3,1041.3"/>
<polygon points="1136.6,1018.7 1152.1,1043.2 1152.1,1046.2 1121.1,1046.2 1121.1,1043.2"/>
<polygon points="1146.5,1019.7 1162,1044.2 1162,1047.2 1131,1047.2 1131,1044.2"/>
<polygon points="1156.3,1018.7 1171.8,1043.2 1171.8,1046.2 1140.8,1046.2 1140.8,1043.2"/>
<polygon points="1166.2,1025 1181.7,1049.5 1181.7,1052.5 1150.7,1052.5 1150.7,1049.5"/>
<polygon points="1176.1,1021.7 1191.6,1046.2 1191.6,1049.2 1160.6,1049.2 1160.6,1046.2"/>
<polygon points="1185.9,1020.6 1201.4,1045.1 1201.4,1048.1 1170.4,1048.1 1170.4,1045.1"/>
<polygon points="1195.8,1018.9 1211.3,1043.4 1211.3,1046.4 1180.3,1046.4 1180.3,1043.4"/>
<polygon points="1205.7,1018.7 1221.2,1043.2 1221.2,1046.2 1190.2,1046.2 1190.2,1043.2"/>
<polygon points="1215.6,1025.6 1231.1,1050.1 1231.1,1053.1 1200.1,1053.1 1200.1,1050.1"/>
<polygon points="1225.5,1025 1241,1049.5 1241,1052.5 1210,1052.5 1210,1049.5"/>
<polygon points="1235.4,1026.8 1250.9,1051.3 1250.9,1054.3 1219.9,1054.3 1219.9,1051.3"/>
<polygon points="1245.3,1017.7 1260.8,1042.2 1260.8,1045.2 1229.8,1045.2 1229.8,1042.2"/>
<polygon points="1255.3,1021.8 1270.8,1046.3 1270.8,1049.3 1239.8,1049.3 1239.8,1046.3"/>
<polygon points="1265.2,1017.7 1280.7,1042.2 1280.7,1045.2 1249.7,1045.2 1249.7,1042.2"/>
<polygon points="1275.2,1013.6 1290.7,1038.1 1290.7,1041.1 1259.7,1041.1 1259.7,1038.1"/>
<polygon points="1285.1,1018.7 1300.6,1043.2 1300.6,1046.2 1269.6,1046.2 1269.6,1043.2"/>
<polygon points="1295.1,1019.7 1310.6,1044.2 1310.6,1047.2 1279.6,1047.2 1279.6,1044.2"/>
<polygon points="1305,1019.7 1320.5,1044.2 1320.5,1047.2 1289.5,1047.2 1289.5,1044.2"/>
<polygon points="1315,1018.7 1330.5,1043.2 1330.5,1046.2 1299.5,1046.2 1299.5,1043.2"/>
<polygon points="1325,1016.8 1340.5,1041.3 1340.5,1044.3 1309.5,1044.3 1309.5,1041.3"/>
<polygon points="1335,1021.8 1350.5,1046.3 1350.5,1049.3 1319.5,1049.3 1319.5,1046.3"/>
<polygon points="1345,1025.8 1360.5,1050.3 1360.5,1053.3 1329.5,1053.3 1329.5,1050.3"/>
<polygon points="1355,1021.8 1370.5,1046.3 1370.5,1049.3 1339.5,1049.3 1339.5,1046.3"/>
<polygon points="1365,1026.8 1380.5,1051.3 1380.5,1054.3 1349.5,1054.3 1349.5,1051.3"/>
<polygon points="1375,1025.6 1390.5,1050.1 1390.5,1053.1 1359.5,1053.1 1359.5,1050.1"/>
<polygon points="1385,1020.6 1400.5,1045.1 1400.5,1048.1 1369.5,1048.1 1369.5,1045.1"/>
<polygon points="1395.1,1023.7 1410.6,1048.2 1410.6,1051.2 1379.6,1051.2 1379.6,1048.2"/>
<polygon points="1405.1,1029.7 1420.6,1054.2 1420.6,1057.2 1389.6,1057.2 1389.6,1054.2"/>
<polygon points="1415.2,1026.2 1430.7,1050.7 1430.7,1053.7 1399.7,1053.7 1399.7,1050.7"/>
<polygon points="1425.2,1021.8 1440.7,1046.3 1440.7,1049.3 1409.7,1049.3 1409.7,1046.3"/>
<polygon points="1435.3,1023.7 1450.8,1048.2 1450.8,1051.2 1419.8,1051.2 1419.8,1048.2"/>
<polygon points="1445.4,1022.7 1460.9,1047.2 1460.9,1050.2 1429.9,1050.2 1429.9,1047.2"/>
<polygon points="1455.4,1019.7 1470.9,1044.2 1470.9,1047.2 1439.9,1047.2 1439.9,1044.2"/>
<polygon points="1465.5,1023.7 1481,1048.2 1481,1051.2 1450,1051.2 1450,1048.2"/>
</g></g>
<g id="s-blue">
<polyline fill="none" stroke="#37AD6B" stroke-width="2.8" stroke-linejoin="round" shape-rendering="crispEdges" points="189.8,1024.5 194.3,1026.4 198.9,1024.7 203.4,1024.5 208,1029.8 212.5,1032.2 217.1,1034.8 221.6,1036.1 226.2,1034.6 230.7,1036.2 235.3,1038.6 239.8,1035.2 244.4,1037.7 248.9,1035.9 253.5,1035.9 258.1,1035.4 262.6,1038 267.2,1037.1 271.8,1039.8 276.4,1041.3 280.9,1041.7 285.5,1039.8 290.1,1037.8 294.7,1038.8 299.3,1037.7 303.8,1033.9 308.4,1033.6 313,1032.3 317.6,1031.1 322.2,1035.4 326.8,1034.2 331.4,1034.1 336,1036.3 340.6,1034.6 345.2,1036.2 349.8,1037.1 354.4,1036.1 359,1034.6 363.6,1033.9 368.2,1035.4 372.8,1034.6 377.4,1031.6 382.1,1031.7 386.7,1032 391.3,1030.1 395.9,1029.8 400.5,1031.4 405.2,1034.5 409.8,1034.2 414.4,1035.8 419.1,1035.6 423.7,1038.6 428.3,1038 433,1040.2 437.6,1040.8 442.2,1040.5 446.9,1040.5 451.5,1039.5 456.2,1038.7 460.8,1039.2 465.5,1038.2 470.1,1037.4 474.8,1037.8 479.4,1036.9 484.1,1036.2 488.7,1032.1 493.4,1031.7 498.1,1030 502.7,1029.3 507.4,1028.1 512.1,1027.7 516.7,1024.8 521.4,1024.6 526.1,1023.6 530.8,1022.7 535.4,1021 540.1,1021.4 544.8,1018 549.5,1017.4 554.2,1018 558.9,1016.3 563.6,1017.6 568.2,1018.8 572.9,1018.7 577.6,1021.1 582.3,1018.8 587,1012.9 591.7,1009.2 596.4,1010.6 601.1,1009 605.8,1009.4 610.5,1010.3 615.3,1007.5 620,1007.1 624.7,1005.7 629.4,1006 634.1,1005 638.8,999.8 643.6,993.3 648.3,985.3 653,981.4 657.7,975 662.5,972.4 667.2,964 671.9,953.9 676.6,946.1 681.4,936.4 686.1,926.4 690.9,914.2 695.6,904.6 700.3,895.3 705.1,885.2 709.8,874.8 714.6,868 719.3,859.2 724.1,849.5 728.8,843.1 733.6,834.4 738.4,824.5 743.1,816.7 747.9,806.2 752.6,802 757.4,799.9 762.2,799.1 766.9,800.8 771.7,801.2 776.5,802.1 781.3,808 786,814.7 790.8,819 795.6,825.6 800.4,833.6 805.2,839 810,847.1 814.7,856.8 819.5,863.1 824.3,873.9 829.1,881.9 833.9,893.4 838.7,901.6 843.5,912.3 848.3,919.6 853.1,927.5 857.9,935.4 862.7,945.2 867.5,951.4 872.3,957.4 877.2,964.1 882,965 886.8,964.7 891.6,965.4 896.4,970.4 901.3,977 906.1,983.3 910.9,990.7 915.7,1000.3 920.6,1006.4 925.4,1011.4 930.2,1013 935.1,1015.5 939.9,1016.1 944.7,1021 949.6,1022.3 954.4,1023.8 959.3,1025.3 964.1,1024.8 969,1025.4 973.8,1025.4 978.7,1028.4 983.5,1030 988.4,1029.2 993.2,1031.9 998.1,1034.2 1002.9,1035.5 1007.8,1035.5 1012.7,1037.5 1017.5,1041.9 1022.4,1042.5 1027.3,1040.1 1032.1,1042.1 1037,1039.3 1041.9,1038.3 1046.8,1038.7 1051.7,1036.8 1056.5,1039.1 1061.4,1041.4 1066.3,1040.8 1071.2,1044.4 1076.1,1042.4 1081,1045.9 1085.9,1041.3 1090.8,1040.7 1095.7,1037.9 1100.6,1036.4 1105.5,1039.2 1110.4,1038.9 1115.3,1041 1120.2,1043.6 1125.1,1044.9 1130,1042.1 1134.9,1038.9 1139.8,1037.3 1144.7,1042.3 1149.6,1044.5 1154.6,1046.8 1159.5,1042.1 1164.4,1039.7 1169.3,1038.6 1174.3,1040.2 1179.2,1039.8 1184.1,1041.7 1189,1041.3 1194,1042.8 1198.9,1041.7 1203.9,1040.5 1208.8,1042.2 1213.7,1039.9 1218.7,1042 1223.6,1042.6 1228.6,1043.6 1233.5,1042.8 1238.5,1044.1 1243.4,1044.9 1248.4,1046.2 1253.3,1047.3 1258.3,1045.5 1263.2,1043.3 1268.2,1043 1273.2,1043.9 1278.1,1046.4 1283.1,1048.4 1288.1,1048.6 1293,1044.9 1298,1045.8 1303,1042.4 1308,1043.9 1313,1044 1317.9,1043.6 1322.9,1043 1327.9,1043.4 1332.9,1043.6 1337.9,1042.8 1342.9,1044.5 1347.9,1042.9 1352.8,1043.3 1357.8,1044.4 1362.8,1046.2 1367.8,1047.2 1372.8,1046.3 1377.8,1043.9 1382.8,1045.1 1387.9,1043.8 1392.9,1041.9 1397.9,1040.1 1402.9,1039.9 1407.9,1041.4 1412.9,1044 1417.9,1047.6 1423,1048.6 1428,1048.3 1433,1045.5 1438,1043.2 1443.1,1044.9 1448.1,1041.6 1453.1,1042.9 1458.1,1043.1 1463.2,1044.9 1468.2,1046.9 1473.3,1046.3 1478.3,1046"/>
<g fill="#0000FF" shape-rendering="crispEdges">
<polygon points="174.3,1015.4 205.3,1015.4 205.3,1018.4 189.8,1042.9 174.3,1018.4"/>
<polygon points="187.9,1015.4 218.9,1015.4 218.9,1018.4 203.4,1042.9 187.9,1018.4"/>
<polygon points="201.6,1025.7 232.6,1025.7 232.6,1028.7 217.1,1053.2 201.6,1028.7"/>
<polygon points="215.2,1027.1 246.2,1027.1 246.2,1030.1 230.7,1054.6 215.2,1030.1"/>
<polygon points="228.9,1028.6 259.9,1028.6 259.9,1031.6 244.4,1056.1 228.9,1031.6"/>
<polygon points="242.6,1026.3 273.6,1026.3 273.6,1029.3 258.1,1053.8 242.6,1029.3"/>
<polygon points="256.3,1030.7 287.3,1030.7 287.3,1033.7 271.8,1058.2 256.3,1033.7"/>
<polygon points="270,1030.7 301,1030.7 301,1033.7 285.5,1058.2 270,1033.7"/>
<polygon points="283.8,1028.6 314.8,1028.6 314.8,1031.6 299.3,1056.1 283.8,1031.6"/>
<polygon points="297.5,1023.2 328.5,1023.2 328.5,1026.2 313,1050.7 297.5,1026.2"/>
<polygon points="311.3,1025.1 342.3,1025.1 342.3,1028.1 326.8,1052.6 311.3,1028.1"/>
<polygon points="325.1,1025.5 356.1,1025.5 356.1,1028.5 340.6,1053 325.1,1028.5"/>
<polygon points="338.9,1027 369.9,1027 369.9,1030 354.4,1054.5 338.9,1030"/>
<polygon points="352.7,1026.3 383.7,1026.3 383.7,1029.3 368.2,1053.8 352.7,1029.3"/>
<polygon points="366.6,1022.6 397.6,1022.6 397.6,1025.6 382.1,1050.1 366.6,1025.6"/>
<polygon points="380.4,1020.7 411.4,1020.7 411.4,1023.7 395.9,1048.2 380.4,1023.7"/>
<polygon points="394.3,1025.1 425.3,1025.1 425.3,1028.1 409.8,1052.6 394.3,1028.1"/>
<polygon points="408.2,1029.5 439.2,1029.5 439.2,1032.5 423.7,1057 408.2,1032.5"/>
<polygon points="422.1,1031.7 453.1,1031.7 453.1,1034.7 437.6,1059.2 422.1,1034.7"/>
<polygon points="436,1030.4 467,1030.4 467,1033.4 451.5,1057.9 436,1033.4"/>
<polygon points="450,1029.1 481,1029.1 481,1032.1 465.5,1056.6 450,1032.1"/>
<polygon points="463.9,1027.8 494.9,1027.8 494.9,1030.8 479.4,1055.3 463.9,1030.8"/>
<polygon points="477.9,1022.6 508.9,1022.6 508.9,1025.6 493.4,1050.1 477.9,1025.6"/>
<polygon points="491.9,1019 522.9,1019 522.9,1022 507.4,1046.5 491.9,1022"/>
<polygon points="505.9,1015.5 536.9,1015.5 536.9,1018.5 521.4,1043 505.9,1018.5"/>
<polygon points="519.9,1011.9 550.9,1011.9 550.9,1014.9 535.4,1039.4 519.9,1014.9"/>
<polygon points="534,1008.3 565,1008.3 565,1011.3 549.5,1035.8 534,1011.3"/>
<polygon points="548.1,1008.5 579.1,1008.5 579.1,1011.5 563.6,1036 548.1,1011.5"/>
<polygon points="562.1,1012 593.1,1012 593.1,1015 577.6,1039.5 562.1,1015"/>
<polygon points="576.2,1000.1 607.2,1000.1 607.2,1003.1 591.7,1027.6 576.2,1003.1"/>
<polygon points="590.3,1000.3 621.3,1000.3 621.3,1003.3 605.8,1027.8 590.3,1003.3"/>
<polygon points="604.5,998 635.5,998 635.5,1001 620,1025.5 604.5,1001"/>
<polygon points="618.6,995.9 649.6,995.9 649.6,998.9 634.1,1023.4 618.6,998.9"/>
<polygon points="632.8,976.2 663.8,976.2 663.8,979.2 648.3,1003.7 632.8,979.2"/>
<polygon points="647,963.3 678,963.3 678,966.3 662.5,990.8 647,966.3"/>
<polygon points="661.1,937 692.1,937 692.1,940 676.6,964.5 661.1,940"/>
<polygon points="675.4,905.1 706.4,905.1 706.4,908.1 690.9,932.6 675.4,908.1"/>
<polygon points="689.6,876.1 720.6,876.1 720.6,879.1 705.1,903.6 689.6,879.1"/>
<polygon points="703.8,850.1 734.8,850.1 734.8,853.1 719.3,877.6 703.8,853.1"/>
<polygon points="718.1,825.3 749.1,825.3 749.1,828.3 733.6,852.8 718.1,828.3"/>
<polygon points="732.4,797.1 763.4,797.1 763.4,800.1 747.9,824.6 732.4,800.1"/>
<polygon points="746.7,790 777.7,790 777.7,793 762.2,817.5 746.7,793"/>
<polygon points="761,793 792,793 792,796 776.5,820.5 761,796"/>
<polygon points="775.3,809.9 806.3,809.9 806.3,812.9 790.8,837.4 775.3,812.9"/>
<polygon points="789.7,829.9 820.7,829.9 820.7,832.9 805.2,857.4 789.7,832.9"/>
<polygon points="804,854 835,854 835,857 819.5,881.5 804,857"/>
<polygon points="818.4,884.3 849.4,884.3 849.4,887.3 833.9,911.8 818.4,887.3"/>
<polygon points="832.8,910.5 863.8,910.5 863.8,913.5 848.3,938 832.8,913.5"/>
<polygon points="847.2,936.1 878.2,936.1 878.2,939.1 862.7,963.6 847.2,939.1"/>
<polygon points="861.7,955 892.7,955 892.7,958 877.2,982.5 861.7,958"/>
<polygon points="876.1,956.3 907.1,956.3 907.1,959.3 891.6,983.8 876.1,959.3"/>
<polygon points="890.6,974.2 921.6,974.2 921.6,977.2 906.1,1001.7 890.6,977.2"/>
<polygon points="905.1,997.3 936.1,997.3 936.1,1000.3 920.6,1024.8 905.1,1000.3"/>
<polygon points="919.6,1006.4 950.6,1006.4 950.6,1009.4 935.1,1033.9 919.6,1009.4"/>
<polygon points="934.1,1013.2 965.1,1013.2 965.1,1016.2 949.6,1040.7 934.1,1016.2"/>
<polygon points="948.6,1015.7 979.6,1015.7 979.6,1018.7 964.1,1043.2 948.6,1018.7"/>
<polygon points="963.2,1019.3 994.2,1019.3 994.2,1022.3 978.7,1046.8 963.2,1022.3"/>
<polygon points="977.7,1022.8 1008.7,1022.8 1008.7,1025.8 993.2,1050.3 977.7,1025.8"/>
<polygon points="992.3,1026.4 1023.3,1026.4 1023.3,1029.4 1007.8,1053.9 992.3,1029.4"/>
<polygon points="1006.9,1033.4 1037.9,1033.4 1037.9,1036.4 1022.4,1060.9 1006.9,1036.4"/>
<polygon points="1021.5,1030.2 1052.5,1030.2 1052.5,1033.2 1037,1057.7 1021.5,1033.2"/>
<polygon points="1036.2,1027.7 1067.2,1027.7 1067.2,1030.7 1051.7,1055.2 1036.2,1030.7"/>
<polygon points="1050.8,1031.7 1081.8,1031.7 1081.8,1034.7 1066.3,1059.2 1050.8,1034.7"/>
<polygon points="1065.5,1036.8 1096.5,1036.8 1096.5,1039.8 1081,1064.3 1065.5,1039.8"/>
<polygon points="1080.2,1028.8 1111.2,1028.8 1111.2,1031.8 1095.7,1056.3 1080.2,1031.8"/>
<polygon points="1094.9,1029.8 1125.9,1029.8 1125.9,1032.8 1110.4,1057.3 1094.9,1032.8"/>
<polygon points="1109.6,1035.8 1140.6,1035.8 1140.6,1038.8 1125.1,1063.3 1109.6,1038.8"/>
<polygon points="1124.3,1028.2 1155.3,1028.2 1155.3,1031.2 1139.8,1055.7 1124.3,1031.2"/>
<polygon points="1139.1,1037.7 1170.1,1037.7 1170.1,1040.7 1154.6,1065.2 1139.1,1040.7"/>
<polygon points="1153.8,1029.5 1184.8,1029.5 1184.8,1032.5 1169.3,1057 1153.8,1032.5"/>
<polygon points="1168.6,1032.6 1199.6,1032.6 1199.6,1035.6 1184.1,1060.1 1168.6,1035.6"/>
<polygon points="1183.4,1032.6 1214.4,1032.6 1214.4,1035.6 1198.9,1060.1 1183.4,1035.6"/>
<polygon points="1198.2,1030.8 1229.2,1030.8 1229.2,1033.8 1213.7,1058.3 1198.2,1033.8"/>
<polygon points="1213.1,1034.5 1244.1,1034.5 1244.1,1037.5 1228.6,1062 1213.1,1037.5"/>
<polygon points="1227.9,1035.8 1258.9,1035.8 1258.9,1038.8 1243.4,1063.3 1227.9,1038.8"/>
<polygon points="1242.8,1036.4 1273.8,1036.4 1273.8,1039.4 1258.3,1063.9 1242.8,1039.4"/>
<polygon points="1257.7,1034.8 1288.7,1034.8 1288.7,1037.8 1273.2,1062.3 1257.7,1037.8"/>
<polygon points="1272.6,1039.5 1303.6,1039.5 1303.6,1042.5 1288.1,1067 1272.6,1042.5"/>
<polygon points="1287.5,1033.3 1318.5,1033.3 1318.5,1036.3 1303,1060.8 1287.5,1036.3"/>
<polygon points="1302.4,1034.5 1333.4,1034.5 1333.4,1037.5 1317.9,1062 1302.4,1037.5"/>
<polygon points="1317.4,1034.5 1348.4,1034.5 1348.4,1037.5 1332.9,1062 1317.4,1037.5"/>
<polygon points="1332.4,1033.8 1363.4,1033.8 1363.4,1036.8 1347.9,1061.3 1332.4,1036.8"/>
<polygon points="1347.3,1037.1 1378.3,1037.1 1378.3,1040.1 1362.8,1064.6 1347.3,1040.1"/>
<polygon points="1362.3,1034.8 1393.3,1034.8 1393.3,1037.8 1377.8,1062.3 1362.3,1037.8"/>
<polygon points="1377.4,1032.8 1408.4,1032.8 1408.4,1035.8 1392.9,1060.3 1377.4,1035.8"/>
<polygon points="1392.4,1032.3 1423.4,1032.3 1423.4,1035.3 1407.9,1059.8 1392.4,1035.3"/>
<polygon points="1407.5,1039.5 1438.5,1039.5 1438.5,1042.5 1423,1067 1407.5,1042.5"/>
<polygon points="1422.5,1034.1 1453.5,1034.1 1453.5,1037.1 1438,1061.6 1422.5,1037.1"/>
<polygon points="1437.6,1033.8 1468.6,1033.8 1468.6,1036.8 1453.1,1061.3 1437.6,1036.8"/>
<polygon points="1452.7,1037.8 1483.7,1037.8 1483.7,1040.8 1468.2,1065.3 1452.7,1040.8"/>
</g></g>
<g id="s-cyan">
<polyline fill="none" stroke="#B177DE" stroke-width="2.8" stroke-linejoin="round" shape-rendering="crispEdges" points="190,1027.4 194.5,1027.4 199.1,1031 203.6,1029.5 208.2,1031.7 212.7,1034.5 217.3,1034 221.8,1035.7 226.3,1036.4 230.9,1037.9 235.4,1037.4 240,1037 244.6,1038.3 249.1,1036.8 253.7,1036.2 258.2,1038.6 262.8,1037.4 267.4,1037.4 271.9,1036.5 276.5,1039.6 281.1,1038.3 285.6,1037 290.2,1037.2 294.8,1036.3 299.4,1036.7 304,1035.3 308.5,1033.3 313.1,1031.5 317.7,1029.2 322.3,1029.3 326.9,1030.4 331.5,1031.3 336.1,1033.3 340.7,1033.2 345.3,1033.1 349.9,1033.8 354.5,1035.8 359.1,1037 363.7,1036.4 368.3,1032.7 372.9,1033.3 377.5,1029.6 382.1,1028.5 386.7,1028.7 391.4,1026.1 396,1029.5 400.6,1028.8 405.2,1033.4 409.8,1035.4 414.5,1034.6 419.1,1037.9 423.7,1039.6 428.4,1040.2 433,1042 437.6,1038.9 442.3,1041 446.9,1039.6 451.6,1040.4 456.2,1039.8 460.8,1035.4 465.5,1036.7 470.1,1036.8 474.8,1039.1 479.4,1037 484.1,1037.7 488.8,1037.5 493.4,1034.9 498.1,1034.3 502.7,1031.7 507.4,1031.3 512.1,1029.1 516.7,1028.9 521.4,1030.2 526.1,1028.2 530.8,1028.3 535.4,1030.6 540.1,1028.3 544.8,1028.7 549.5,1029.2 554.2,1028 558.8,1027.6 563.5,1027.4 568.2,1027.4 572.9,1027.1 577.6,1024.7 582.3,1025.3 587,1023.9 591.7,1019.9 596.4,1020.5 601.1,1020.1 605.8,1018.9 610.5,1021.1 615.2,1021 619.9,1020.1 624.6,1015.1 629.4,1013.5 634.1,1012.7 638.8,1006 643.5,999.3 648.2,995.4 653,988 657.7,981.6 662.4,977 667.1,970.7 671.9,964.9 676.6,957.5 681.3,951.1 686.1,943.4 690.8,933.8 695.6,921.8 700.3,914.3 705,901.8 709.8,892 714.5,881.8 719.3,874.2 724,866.1 728.8,857.4 733.5,854.2 738.3,846.8 743.1,840.3 747.8,837.2 752.6,836 757.4,830.4 762.1,829.3 766.9,826.8 771.7,828.6 776.4,827.8 781.2,827.9 786,828.6 790.8,836.8 795.6,840.6 800.3,849.8 805.1,856.5 809.9,863 814.7,872.2 819.5,878.3 824.3,884 829.1,893.1 833.9,904.6 838.7,916.6 843.5,927.7 848.3,934.4 853.1,938.8 857.9,944.8 862.7,951.3 867.5,959.3 872.3,965.7 877.1,969.8 881.9,976.4 886.7,979.9 891.6,979.5 896.4,980.4 901.2,983.9 906,991.1 910.9,998.6 915.7,1006.6 920.5,1012.1 925.4,1016.8 930.2,1018.8 935,1021.6 939.9,1023.4 944.7,1025.4 949.5,1026.5 954.4,1027.8 959.2,1027.9 964.1,1032 968.9,1031.8 973.8,1032.8 978.6,1036.7 983.5,1036.9 988.3,1038.1 993.2,1040 998.1,1041.8 1002.9,1041.9 1007.8,1037.8 1012.7,1038.2 1017.5,1037.3 1022.4,1039.4 1027.3,1038 1032.1,1038 1037,1040.5 1041.9,1039.8 1046.8,1039.6 1051.7,1042.9 1056.5,1042 1061.4,1041.5 1066.3,1042.4 1071.2,1045.7 1076.1,1045.2 1081,1045.2 1085.9,1043.1 1090.8,1043.1 1095.7,1040.2 1100.6,1039.4 1105.5,1044 1110.4,1043.3 1115.3,1044 1120.2,1042.2 1125.1,1043.3 1130,1041.6 1134.9,1040 1139.9,1043.2 1144.8,1041 1149.7,1044.2 1154.6,1045.2 1159.5,1043.4 1164.5,1042.4 1169.4,1039 1174.3,1038.3 1179.3,1038.1 1184.2,1041.9 1189.1,1042.9 1194.1,1045.2 1199,1046.8 1203.9,1045 1208.9,1044.9 1213.8,1045.2 1218.8,1046.4 1223.7,1046.6 1228.7,1049 1233.6,1047.8 1238.6,1048.8 1243.5,1047.4 1248.5,1046.1 1253.5,1047.1 1258.4,1048.3 1263.4,1049.7 1268.3,1050.5 1273.3,1050.3 1278.3,1051.9 1283.3,1048.5 1288.2,1049 1293.2,1049 1298.2,1048.2 1303.2,1047.3 1308.1,1047 1313.1,1047.1 1318.1,1046.1 1323.1,1045.4 1328.1,1043.4 1333.1,1043.4 1338.1,1042.9 1343.1,1044.5 1348.1,1044.7 1353,1047.1 1358,1045.6 1363.1,1046.3 1368.1,1045.2 1373.1,1044 1378.1,1046 1383.1,1044.2 1388.1,1044.2 1393.1,1044 1398.1,1044.1 1403.1,1044 1408.2,1043 1413.2,1042.1 1418.2,1043.4 1423.2,1044.5 1428.2,1044.4 1433.3,1046 1438.3,1048.2 1443.3,1048.7 1448.4,1048.6 1453.4,1050.5 1458.4,1049.2 1463.5,1047.8 1468.5,1046.5 1473.6,1045.1 1478.6,1044.5"/>
<g fill="#00FFFF" shape-rendering="crispEdges">
<polygon points="190,1011.1 206.3,1027.4 190,1043.7 173.7,1027.4"/>
<polygon points="208.2,1015.4 224.5,1031.7 208.2,1048 191.9,1031.7"/>
<polygon points="226.3,1020.1 242.6,1036.4 226.3,1052.7 210,1036.4"/>
<polygon points="244.6,1022 260.9,1038.3 244.6,1054.6 228.3,1038.3"/>
<polygon points="262.8,1021.1 279.1,1037.4 262.8,1053.7 246.5,1037.4"/>
<polygon points="281.1,1022 297.4,1038.3 281.1,1054.6 264.8,1038.3"/>
<polygon points="299.4,1020.4 315.7,1036.7 299.4,1053 283.1,1036.7"/>
<polygon points="317.7,1012.9 334,1029.2 317.7,1045.5 301.4,1029.2"/>
<polygon points="336.1,1017 352.4,1033.3 336.1,1049.6 319.8,1033.3"/>
<polygon points="354.5,1019.5 370.8,1035.8 354.5,1052.1 338.2,1035.8"/>
<polygon points="372.9,1017 389.2,1033.3 372.9,1049.6 356.6,1033.3"/>
<polygon points="391.4,1009.8 407.7,1026.1 391.4,1042.4 375.1,1026.1"/>
<polygon points="409.8,1019.1 426.1,1035.4 409.8,1051.7 393.5,1035.4"/>
<polygon points="428.4,1023.9 444.7,1040.2 428.4,1056.5 412.1,1040.2"/>
<polygon points="446.9,1023.3 463.2,1039.6 446.9,1055.9 430.6,1039.6"/>
<polygon points="465.5,1020.4 481.8,1036.7 465.5,1053 449.2,1036.7"/>
<polygon points="484.1,1021.4 500.4,1037.7 484.1,1054 467.8,1037.7"/>
<polygon points="502.7,1015.4 519,1031.7 502.7,1048 486.4,1031.7"/>
<polygon points="521.4,1013.9 537.7,1030.2 521.4,1046.5 505.1,1030.2"/>
<polygon points="540.1,1012 556.4,1028.3 540.1,1044.6 523.8,1028.3"/>
<polygon points="558.8,1011.3 575.1,1027.6 558.8,1043.9 542.5,1027.6"/>
<polygon points="577.6,1008.4 593.9,1024.7 577.6,1041 561.3,1024.7"/>
<polygon points="596.4,1004.2 612.7,1020.5 596.4,1036.8 580.1,1020.5"/>
<polygon points="615.2,1004.7 631.5,1021 615.2,1037.3 598.9,1021"/>
<polygon points="634.1,996.4 650.4,1012.7 634.1,1029 617.8,1012.7"/>
<polygon points="653,971.7 669.3,988 653,1004.3 636.7,988"/>
<polygon points="671.9,948.6 688.2,964.9 671.9,981.2 655.6,964.9"/>
<polygon points="690.8,917.5 707.1,933.8 690.8,950.1 674.5,933.8"/>
<polygon points="709.8,875.7 726.1,892 709.8,908.3 693.5,892"/>
<polygon points="728.8,841.1 745.1,857.4 728.8,873.7 712.5,857.4"/>
<polygon points="747.8,820.9 764.1,837.2 747.8,853.5 731.5,837.2"/>
<polygon points="766.9,810.5 783.2,826.8 766.9,843.1 750.6,826.8"/>
<polygon points="786,812.3 802.3,828.6 786,844.9 769.7,828.6"/>
<polygon points="805.1,840.2 821.4,856.5 805.1,872.8 788.8,856.5"/>
<polygon points="824.3,867.7 840.6,884 824.3,900.3 808,884"/>
<polygon points="843.5,911.4 859.8,927.7 843.5,944 827.2,927.7"/>
<polygon points="862.7,935 879,951.3 862.7,967.6 846.4,951.3"/>
<polygon points="881.9,960.1 898.2,976.4 881.9,992.7 865.6,976.4"/>
<polygon points="901.2,967.6 917.5,983.9 901.2,1000.2 884.9,983.9"/>
<polygon points="920.5,995.8 936.8,1012.1 920.5,1028.4 904.2,1012.1"/>
<polygon points="939.9,1007.1 956.2,1023.4 939.9,1039.7 923.6,1023.4"/>
<polygon points="959.2,1011.6 975.5,1027.9 959.2,1044.2 942.9,1027.9"/>
<polygon points="978.6,1020.4 994.9,1036.7 978.6,1053 962.3,1036.7"/>
<polygon points="998.1,1025.5 1014.4,1041.8 998.1,1058.1 981.8,1041.8"/>
<polygon points="1017.5,1021 1033.8,1037.3 1017.5,1053.6 1001.2,1037.3"/>
<polygon points="1037,1024.2 1053.3,1040.5 1037,1056.8 1020.7,1040.5"/>
<polygon points="1056.5,1025.7 1072.8,1042 1056.5,1058.3 1040.2,1042"/>
<polygon points="1076.1,1028.9 1092.4,1045.2 1076.1,1061.5 1059.8,1045.2"/>
<polygon points="1095.7,1023.9 1112,1040.2 1095.7,1056.5 1079.4,1040.2"/>
<polygon points="1115.3,1027.7 1131.6,1044 1115.3,1060.3 1099,1044"/>
<polygon points="1134.9,1023.7 1151.2,1040 1134.9,1056.3 1118.6,1040"/>
<polygon points="1154.6,1028.9 1170.9,1045.2 1154.6,1061.5 1138.3,1045.2"/>
<polygon points="1174.3,1022 1190.6,1038.3 1174.3,1054.6 1158,1038.3"/>
<polygon points="1194.1,1028.9 1210.4,1045.2 1194.1,1061.5 1177.8,1045.2"/>
<polygon points="1213.8,1028.9 1230.1,1045.2 1213.8,1061.5 1197.5,1045.2"/>
<polygon points="1233.6,1031.5 1249.9,1047.8 1233.6,1064.1 1217.3,1047.8"/>
<polygon points="1253.5,1030.8 1269.8,1047.1 1253.5,1063.4 1237.2,1047.1"/>
<polygon points="1273.3,1034 1289.6,1050.3 1273.3,1066.6 1257,1050.3"/>
<polygon points="1293.2,1032.7 1309.5,1049 1293.2,1065.3 1276.9,1049"/>
<polygon points="1313.1,1030.8 1329.4,1047.1 1313.1,1063.4 1296.8,1047.1"/>
<polygon points="1333.1,1027.1 1349.4,1043.4 1333.1,1059.7 1316.8,1043.4"/>
<polygon points="1353,1030.8 1369.3,1047.1 1353,1063.4 1336.7,1047.1"/>
<polygon points="1373.1,1027.7 1389.4,1044 1373.1,1060.3 1356.8,1044"/>
<polygon points="1393.1,1027.7 1409.4,1044 1393.1,1060.3 1376.8,1044"/>
<polygon points="1413.2,1025.8 1429.5,1042.1 1413.2,1058.4 1396.9,1042.1"/>
<polygon points="1433.3,1029.7 1449.6,1046 1433.3,1062.3 1417,1046"/>
<polygon points="1453.4,1034.2 1469.7,1050.5 1453.4,1066.8 1437.1,1050.5"/>
</g></g>
</g>
<g filter="url(#crisp)">
<rect x="884" y="153" width="134" height="3" fill="#515151" shape-rendering="crispEdges"/>
<g fill="#000000" shape-rendering="crispEdges"><rect x="938.8" y="143" width="23.4" height="23.8"/></g>
<text class="leg" x="1031" y="174.7">SnO<tspan class="sub" dy="15.3">2</tspan></text>
<rect x="884" y="239" width="134" height="3" fill="#F14040" shape-rendering="crispEdges"/>
<g fill="#FF0000" shape-rendering="crispEdges"><ellipse cx="951" cy="240.4" rx="13.1" ry="13.5"/></g>
<text class="leg" x="1031" y="260.6">SnO<tspan class="sub" dy="15.3">2</tspan><tspan dy="-15.3">/SnO</tspan><tspan class="sub" dy="15.3">x</tspan></text>
<rect x="884" y="325" width="134" height="2" fill="#1A6FDF" shape-rendering="crispEdges"/>
<g fill="#00FF00" shape-rendering="crispEdges"><polygon points="950.5,308.8 966,333 966,336 935,336 935,333"/></g>
<text class="leg" x="1031" y="346.2">TiO<tspan class="sub" dy="15.3">2</tspan></text>
<rect x="884" y="411" width="134" height="2" fill="#37AD6B" shape-rendering="crispEdges"/>
<g fill="#0000FF" shape-rendering="crispEdges"><polygon points="935,402.9 966,402.9 966,405.9 950.5,430.1 935,405.9"/></g>
<text class="leg" x="1031" y="432.2">TiO<tspan class="sub" dy="15.3">2</tspan><tspan dy="-15.3">/SnO</tspan><tspan class="sub" dy="15.3">2</tspan></text>
<rect x="884" y="496" width="134" height="3" fill="#B177DE" shape-rendering="crispEdges"/>
<g fill="#00FFFF" shape-rendering="crispEdges"><polygon points="951,481.6 967.3,497.9 951,514.2 934.7,497.9"/></g>
<text class="leg" x="1031" y="517.7">TiO<tspan class="sub" dy="15.3">2</tspan><tspan dy="-15.3">/SnO</tspan><tspan class="sub" dy="15.3">2</tspan><tspan dy="-15.3">/SnO</tspan><tspan class="sub" dy="15.3">x</tspan></text>
<text class="tick" x="190.5" y="1156.7" text-anchor="middle">600</text>
<text class="tick" x="510.9" y="1156.7" text-anchor="middle">700</text>
<text class="tick" x="831.3" y="1156.7" text-anchor="middle">800</text>
<text class="tick" x="1151.7" y="1156.7" text-anchor="middle">900</text>
<text class="tick" x="1471.3" y="1156.7" text-anchor="middle">1000</text>
<text class="title" x="828.2" y="1230.2" text-anchor="middle">Wavelength (nm)</text>
<text class="title" transform="translate(99.7,585.8) rotate(-90)" text-anchor="middle">Intensity (arb.units)</text>
<text class="lam" x="1015.6" y="950.8">λ<tspan class="lamsub" dy="19">ex</tspan><tspan dy="-19">=337.1 nm</tspan></text>
</g>
</svg>
</body>
</html>
